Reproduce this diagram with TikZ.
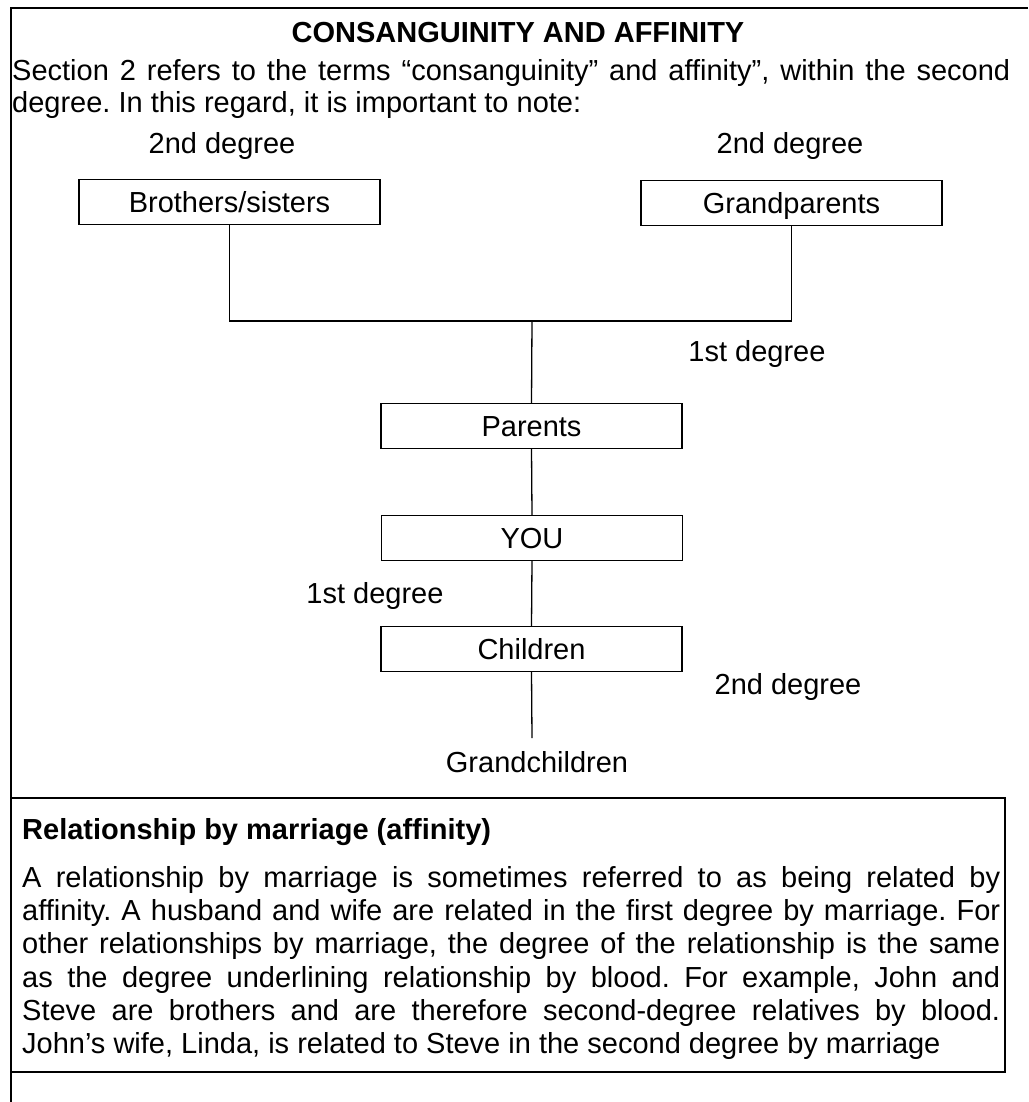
\documentclass[tikz,border=0pt]{standalone}
\usepackage{fontspec}
\setmainfont{Liberation Sans}
\frenchspacing
\begin{document}
\begin{tikzpicture}[x=1pt,y=-1pt,
  every node/.style={font=\fontsize{29}{33}\selectfont\frenchspacing, inner sep=0pt},
  box/.style={draw, line width=1.3pt, minimum width=301pt, minimum height=45pt, text height=24pt, text depth=3pt},
  link/.style={line width=1.3pt},
  frame/.style={line width=2pt},
  txt/.style={anchor=base west},
  lbl/.style={anchor=base}]
\useasboundingbox (0,0) rectangle (1028,1102);
% frame
\draw[frame] (10,8) -- (1028,8);
\draw[frame] (11,8) -- (11,1102);
\draw[link] (11,798) rectangle (1005,1072);
% heading
\node[lbl, font=\fontsize{29}{33}\selectfont\bfseries] (title) at (518,43) {CONSANGUINITY AND AFFINITY};
\node[txt] (p1) at (12,81) {\makebox[998pt][s]{Section 2 refers to the terms “consanguinity” and affinity”, within the second}};
\node[txt] (p2) at (12,113) {degree. In this regard, it is important to note:};
% degree labels
\node[lbl] (d2a) at (222,154) {2nd degree};
\node[lbl] (d2b) at (790,154) {2nd degree};
\node[lbl] (d1a) at (757,361) {1st degree};
\node[lbl] (d1b) at (375,603) {1st degree};
\node[lbl] (d2c) at (788,694) {2nd degree};
% boxes
\node[box] (bro) at (229.5,202) {Brothers/sisters};
\node[box] (gp) at (791.5,203) {Grandparents};
\node[box] (par) at (531.5,426) {Parents};
\node[box] (you) at (532,538) {YOU};
\node[box] (chi) at (531.5,649) {Children};
\node[lbl] (gch) at (537,772) {Grandchildren};
% connectors
\coordinate (jn) at (532,321);
\coordinate (gend) at (532,738);
\draw[link] (bro.south) -- (bro.south |- jn) -- (gp.south |- jn) -- (gp.south);
\draw[link] (jn) -- (par.north);
\draw[link] (par.south) -- (you.north);
\draw[link] (you.south) -- (chi.north);
\draw[link] (chi.south) -- (gend);
% lower section
\node[txt, font=\fontsize{29}{33}\selectfont\bfseries] (rh) at (22,839) {Relationship by marriage (affinity)};
\node[txt] (l1) at (22,887) {\makebox[978pt][s]{A relationship by marriage is sometimes referred to as being related by}};
\node[txt] (l2) at (22,920) {\makebox[978pt][s]{affinity. A husband and wife are related in the first degree by marriage. For}};
\node[txt] (l3) at (22,953) {\makebox[978pt][s]{other relationships by marriage, the degree of the relationship is the same}};
\node[txt] (l4) at (22,987) {\makebox[978pt][s]{as the degree underlining relationship by blood. For example, John and}};
\node[txt] (l5) at (22,1020) {\makebox[978pt][s]{Steve are brothers and are therefore second-degree relatives by blood.}};
\node[txt] (l6) at (22,1053) {John’s wife, Linda, is related to Steve in the second degree by marriage};
\end{tikzpicture}
\end{document}
